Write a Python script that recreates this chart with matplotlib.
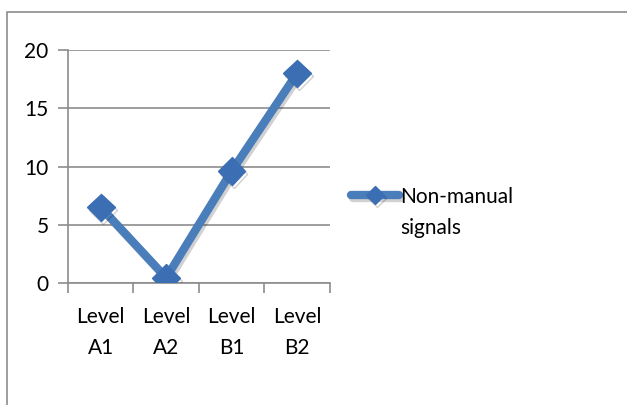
import matplotlib
matplotlib.use("Agg")
import matplotlib.pyplot as plt
import matplotlib.patheffects as pe
from matplotlib.patches import Rectangle
from matplotlib.legend_handler import HandlerLine2D
import numpy as np

plt.rcParams['font.family'] = ['Lato', 'DejaVu Sans']

categories = ["Level\nA1", "Level\nA2", "Level\nB1", "Level\nB2"]
values = [6.5, 0.45, 9.6, 18.0]
series_name = "Non-manual\nsignals"
yticks = [0, 5, 10, 15, 20]


class FirstLineHandler(HandlerLine2D):
    # put the legend key level with the first line of the label
    def create_artists(self, legend, orig_handle, xdescent, ydescent, width, height, fontsize, trans):
        artists = super().create_artists(legend, orig_handle, xdescent, ydescent,
                                         width, height, fontsize, trans)
        for a in artists:
            a.set_ydata(np.asarray(a.get_ydata()) + 0.85 * fontsize)
        return artists


fig = plt.figure(figsize=(6.27, 4.05), dpi=100)
ax = fig.add_axes([0.1085, 0.3012, 0.4175, 0.5753])

# outer chart border
fig.patches.append(Rectangle((7 / 627, -0.1), 1.2, 1 - 12 / 405 + 0.1,
                             transform=fig.transFigure, fill=False,
                             edgecolor="#8c8c8c", linewidth=1.2))

x = np.arange(len(categories))
shadow = [pe.SimpleLineShadow(offset=(1.5, -2), shadow_color="black", alpha=0.18), pe.Normal()]
line, = ax.plot(x, values, color="#4a7ebb", linewidth=6, solid_capstyle="round",
                marker="D", markersize=14, markerfacecolor="#3c6eb4",
                markeredgecolor="#3c6eb4", label=series_name, path_effects=shadow,
                zorder=3)

ax.set_xlim(-0.5, len(categories) - 0.5)
ax.set_ylim(0, 20)
ax.set_yticks(yticks)
ax.set_xticks(x)
ax.set_xticklabels(categories, fontsize=15, linespacing=1.72)
ax.set_xticks(np.arange(-0.5, len(categories)), minor=True)
ax.tick_params(axis="x", which="major", length=0, pad=17)
ax.tick_params(axis="x", which="minor", length=7, direction="out", color="#8c8c8c", width=1.2)
ax.tick_params(axis="y", length=7, direction="out", color="#8c8c8c", width=1.2, labelsize=15, pad=7)

ax.grid(axis="y", color="#8c8c8c", linewidth=1.2)
ax.set_axisbelow(True)
for s in ["top", "right"]:
    ax.spines[s].set_visible(False)
for s in ["left", "bottom"]:
    ax.spines[s].set_color("#8c8c8c")
    ax.spines[s].set_linewidth(1.2)

leg = fig.legend(handles=[line], loc="upper left", bbox_to_anchor=(0.547, 0.56),
                 frameon=False, fontsize=15, handlelength=2.3, handletextpad=0.05,
                 borderaxespad=0, markerscale=0.65,
                 handler_map={line: FirstLineHandler()})
for t in leg.get_texts():
    t.set_linespacing(1.72)

fig.savefig("out.png", dpi=100)
